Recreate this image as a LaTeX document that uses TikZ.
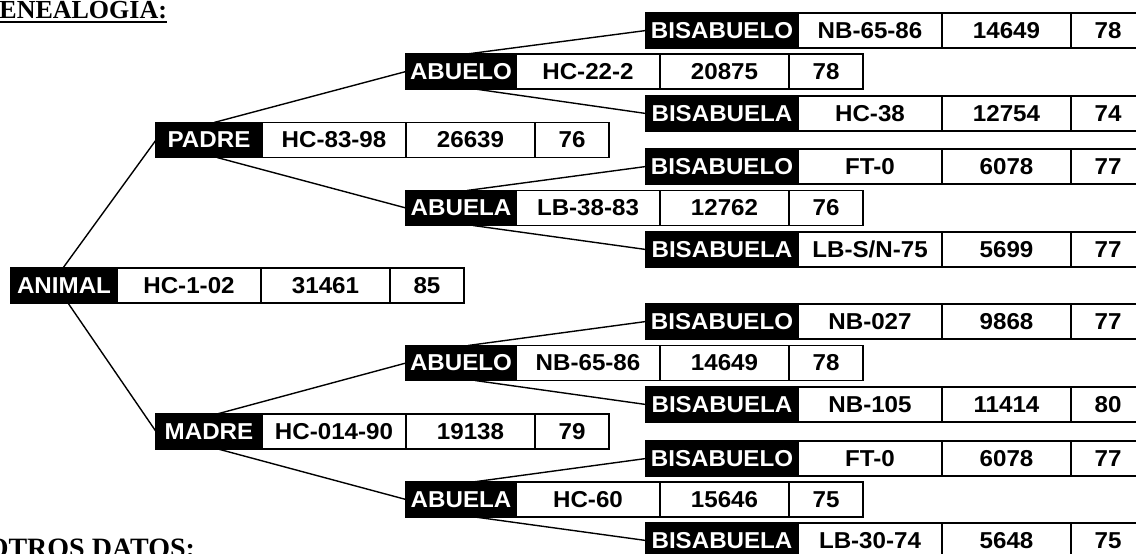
\documentclass[tikz,border=0pt]{standalone}
\usepackage{fontspec}
\newfontfamily\cellfont{Liberation Sans}[FakeStretch=1.05]
\newfontfamily\headfont{Liberation Serif}
\newcommand\famrow[8]{%
  \node[lab, minimum width=#4pt] (#1) at (#2,#3) {#5};
  \node[cell, minimum width=144pt] (#1-a) at (#1.east) {#6};
  \node[cell, minimum width=129pt] (#1-b) at (#1-a.east) {#7};
  \node[cell, minimum width=74pt] (#1-c) at (#1-b.east) {#8};
}
\newcommand\ulinetext[1]{{\setbox0\hbox{#1}\rlap{\rule[-5pt]{\wd0}{2pt}}\box0}}
\begin{document}
\begin{tikzpicture}[x=1pt,y=-1pt,
  box/.style={draw=black, line width=1.3pt, inner sep=0pt, outer sep=0pt,
    minimum height=35pt, anchor=west,
    font=\cellfont\bfseries\fontsize{23}{26}\selectfont},
  lab/.style={box, fill=black, text=white},
  cell/.style={box, fill=white, text=black},
  link/.style={line width=1.4pt, draw=black},
  head/.style={font=\headfont\bfseries\fontsize{26}{30}\selectfont,
    inner sep=0pt, outer sep=0pt}]
\useasboundingbox (0,0) rectangle (1136,554);
\clip (0,0) rectangle (1136,554);

\node[head, anchor=base east] (h1) at (167,18.5) {\ulinetext{GENEALOGIA:}};
\node[head, anchor=base east, font=\headfont\bfseries\fontsize{28}{32}\selectfont] (h2) at (195,557) {\ulinetext{OTROS DATOS:}};

\famrow{an}{11}{285.5}{106}{ANIMAL}{HC-1-02}{31461}{85}
\famrow{p}{156}{140}{106}{PADRE}{HC-83-98}{26639}{76}
\famrow{m}{156}{431.5}{106}{MADRE}{HC-014-90}{19138}{79}
\famrow{ab1}{406}{71.5}{110}{ABUELO}{HC-22-2}{20875}{78}
\famrow{ab2}{406}{208}{110}{ABUELA}{LB-38-83}{12762}{76}
\famrow{ab3}{406}{363}{110}{ABUELO}{NB-65-86}{14649}{78}
\famrow{ab4}{406}{499.5}{110}{ABUELA}{HC-60}{15646}{75}
\famrow{g1}{646}{30.5}{152}{BISABUELO}{NB-65-86}{14649}{78}
\famrow{g2}{646}{113.5}{152}{BISABUELA}{HC-38}{12754}{74}
\famrow{g3}{646}{166.5}{152}{BISABUELO}{FT-0}{6078}{77}
\famrow{g4}{646}{249.5}{152}{BISABUELA}{LB-S/N-75}{5699}{77}
\famrow{g5}{646}{321.5}{152}{BISABUELO}{NB-027}{9868}{77}
\famrow{g6}{646}{404.5}{152}{BISABUELA}{NB-105}{11414}{80}
\famrow{g7}{646}{458.5}{152}{BISABUELO}{FT-0}{6078}{77}
\famrow{g8}{646}{540.5}{152}{BISABUELA}{LB-30-74}{5648}{75}

\draw[link] ([xshift=-1pt]an.north) -- (p.west);
\draw[link] ([xshift=4pt]an.south) -- (m.west);
\draw[link] ([xshift=5pt]p.north) -- (ab1.west);
\draw[link] ([xshift=8pt]p.south) -- (ab2.west);
\draw[link] ([xshift=8pt]m.north) -- (ab3.west);
\draw[link] ([xshift=9pt]m.south) -- (ab4.west);
\draw[link] ([xshift=6pt]ab1.north) -- (g1.west);
\draw[link] ([xshift=14pt]ab1.south) -- (g2.west);
\draw[link] ([xshift=6pt]ab2.north) -- (g3.west);
\draw[link] ([xshift=12pt]ab2.south) -- (g4.west);
\draw[link] ([xshift=7pt]ab3.north) -- (g5.west);
\draw[link] ([xshift=14pt]ab3.south) -- (g6.west);
\draw[link] ([xshift=12pt]ab4.north) -- (g7.west);
\draw[link] ([xshift=14pt]ab4.south) -- (g8.west);
\end{tikzpicture}
\end{document}
